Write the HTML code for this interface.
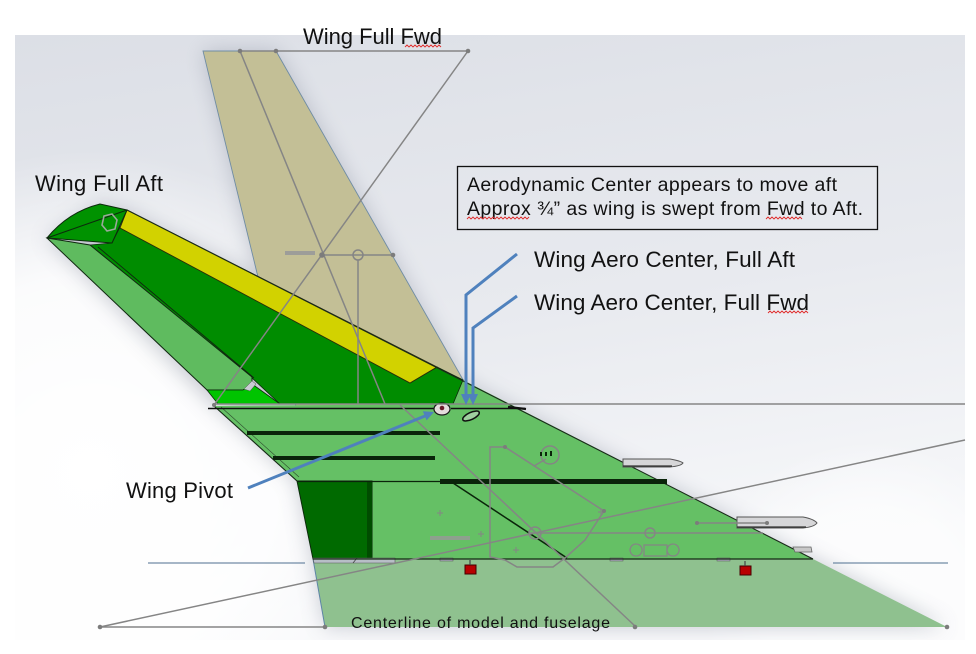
<!DOCTYPE html>
<html><head><meta charset="utf-8"><style>
html,body{margin:0;padding:0;background:#fff;width:976px;height:654px;overflow:hidden;}
svg{display:block;position:absolute;left:0;top:0;}
text{font-family:"Liberation Sans",Arial,sans-serif;fill:#111;}
</style></head><body>
<svg width="976" height="654" viewBox="0 0 976 654" xmlns="http://www.w3.org/2000/svg">
<defs>
<linearGradient id="bg" x1="0" y1="0" x2="0.25" y2="1">
<stop offset="0" stop-color="#dcdfe6"/>
<stop offset="0.55" stop-color="#e8eaef"/>
<stop offset="1" stop-color="#f7f8fa"/>
</linearGradient>
<radialGradient id="glowL" gradientUnits="userSpaceOnUse" cx="90" cy="470" r="320">
<stop offset="0" stop-color="#ffffff" stop-opacity="1"/>
<stop offset="0.6" stop-color="#ffffff" stop-opacity="0.85"/>
<stop offset="1" stop-color="#ffffff" stop-opacity="0"/>
</radialGradient>
<radialGradient id="glowR" gradientUnits="userSpaceOnUse" cx="870" cy="610" r="170">
<stop offset="0" stop-color="#ffffff" stop-opacity="0.7"/>
<stop offset="0.6" stop-color="#ffffff" stop-opacity="0.6"/>
<stop offset="1" stop-color="#ffffff" stop-opacity="0"/>
</radialGradient>
<filter id="blur" x="-20%" y="-20%" width="140%" height="140%"><feGaussianBlur stdDeviation="10"/></filter>
<clipPath id="frame"><rect x="15" y="35" width="950" height="605"/></clipPath>
</defs>

<!-- background -->
<rect x="15" y="35" width="950" height="605" fill="url(#bg)"/>
<rect x="15" y="35" width="950" height="605" fill="url(#glowL)"/>
<rect x="15" y="35" width="950" height="605" fill="url(#glowR)"/>

<!-- shadow -->
<g clip-path="url(#frame)">
<g filter="url(#blur)" opacity="0.45" fill="#8a90a0">
<polygon points="203,51 276,51 470,392 300,420 257,273"/>
<polygon points="47,238 100,204 127,210 813,559 947,627 325,627 313,559 297,481 214,406"/>
</g>
</g>

<!-- tan wing (full fwd) -->
<polygon points="203,51 276,51 470,392 300,420 257,273" fill="#c3bf96" stroke="#6f8ca4" stroke-width="0.9"/>

<!-- translucent lower region -->
<polygon points="313,559 813,559 947,627 325,627" fill="#8fc18f"/>
<line x1="313" y1="559" x2="325" y2="627" stroke="#5e86a6" stroke-width="1"/>

<!-- glove light green -->
<polygon points="214,406 453,404 463,380 813,559 313,559 297,481" fill="#65c065"/>
<!-- dark rect -->
<polygon points="297,481 372,481 372,559 313,559" fill="#006a00" stroke="#0b2a0b" stroke-width="1"/>
<rect x="367" y="481" width="5" height="78" fill="#004c00"/>
<!-- small gray strips at bottom -->
<polygon points="313,558 395,558 395,563 314,563" fill="#b7bec6" stroke="#555" stroke-width="0.6"/>
<line x1="357" y1="558" x2="353" y2="563" stroke="#444" stroke-width="0.8"/>
<rect x="440" y="558" width="13" height="3" fill="#aab" stroke="#555" stroke-width="0.5"/>
<rect x="610" y="558" width="13" height="3" fill="#aab" stroke="#555" stroke-width="0.5"/>
<rect x="717" y="558" width="13" height="3" fill="#aab" stroke="#555" stroke-width="0.5"/>

<!-- upper wing (full aft) -->
<polygon points="112,243 120,227 410,383 437,367 463,380 453,404 280,404 252,378 90,245" fill="#008c00" stroke="#0c2a0c" stroke-width="0.8"/>
<polygon points="127,210 437,367 410,383 120,228" fill="#d2d200" stroke="#2a2a0a" stroke-width="0.9"/>
<path d="M47,238 Q68,212 100,204 L127,210 L112,243 Z" fill="#009200" stroke="#0c2a0c" stroke-width="1"/>
<line x1="47" y1="238" x2="127" y2="210" stroke="#0c2a0c" stroke-width="1"/>
<polygon points="104,216 112,214 117,220 115,229 107,231 102,225" fill="none" stroke="#9aa89a" stroke-width="1.6"/>
<polygon points="47,238 90,245 252,377 252,385 243,390 207,390" fill="#5fbb5f" stroke="#102810" stroke-width="1"/>
<line x1="98" y1="247" x2="254" y2="378" stroke="#102810" stroke-width="0.9"/>
<polygon points="207,390 243,390 252,384 280,404 218,404" fill="#00c400" stroke="#0c2a0c" stroke-width="0.8"/>
<polygon points="244,389 252,381 256,384 250,391" fill="#c8ccd2" stroke="#555" stroke-width="0.5"/>

<!-- edges -->
<line x1="127" y1="210" x2="813" y2="559" stroke="#1a2a1a" stroke-width="1.1"/>
<line x1="214" y1="406" x2="297" y2="481" stroke="#142814" stroke-width="1.1"/>
<line x1="221" y1="407" x2="299" y2="477" stroke="#2d4a2d" stroke-width="0.6"/>
<line x1="313" y1="559" x2="813" y2="559" stroke="#142814" stroke-width="1.3"/>
<line x1="208" y1="408.5" x2="434" y2="408.5" stroke="#101010" stroke-width="1.5"/>
<line x1="451" y1="408.5" x2="525" y2="408.5" stroke="#101010" stroke-width="1.5"/>
<line x1="508" y1="407" x2="526" y2="409" stroke="#101010" stroke-width="2.2"/>
<!-- slots -->
<line x1="247" y1="433" x2="440" y2="433" stroke="#0a240a" stroke-width="4"/>
<line x1="273" y1="458" x2="435" y2="458" stroke="#0a240a" stroke-width="4"/>
<line x1="297" y1="481.5" x2="440" y2="481.5" stroke="#0a240a" stroke-width="1.2"/>
<line x1="440" y1="481.5" x2="667" y2="481.5" stroke="#0a240a" stroke-width="5"/>
<line x1="453" y1="483" x2="567" y2="558" stroke="#0a240a" stroke-width="1.5"/>

<!-- pivot and slot -->
<ellipse cx="442" cy="409" rx="8" ry="6" fill="#e4dcdc" stroke="#1a1a1a" stroke-width="1.2"/>
<circle cx="442" cy="408" r="2.3" fill="#6a1a2a"/>
<ellipse cx="471" cy="416" rx="9" ry="3.5" transform="rotate(-25 471 416)" fill="#9fd09f" stroke="#111" stroke-width="1.5"/>

<!-- tanks -->
<path d="M623,459 L670,459 Q681,461 683,463 Q681,466 670,467 L623,467 Z" fill="#d6d6d8" stroke="#555" stroke-width="1"/>
<line x1="623" y1="466" x2="672" y2="466" stroke="#333" stroke-width="1.2"/>
<path d="M737,517 L803,517 Q814,519 817,523 Q814,527 803,528 L737,528 Z" fill="#d6d6d8" stroke="#555" stroke-width="1"/>
<line x1="737" y1="527" x2="806" y2="527" stroke="#333" stroke-width="1.2"/>
<path d="M793,547 L811,547 L812,552 L795,552 Z" fill="#c8c8c8" stroke="#666" stroke-width="0.8"/>
<!-- red blocks -->
<rect x="465" y="565" width="11" height="9" fill="#b80000" stroke="#400" stroke-width="1"/>
<line x1="470" y1="560" x2="470" y2="565" stroke="#444" stroke-width="1.2"/>
<rect x="740" y="566" width="11" height="9" fill="#b80000" stroke="#400" stroke-width="1"/>
<line x1="745" y1="561" x2="745" y2="566" stroke="#444" stroke-width="1.2"/>

<!-- gray construction lines -->
<g stroke="#858585" stroke-width="1.5" fill="none">
<path d="M240,51 H468"/>
<path d="M468,51 L214,405"/>
<path d="M240,51 L385,404"/>
<path d="M322,255 H393"/>
<circle cx="358" cy="255" r="5"/>
<path d="M358,260 V404"/>
<path d="M400,405 L635,626"/>
<path d="M213,404 H965"/>
<path d="M100,627 H325"/>
<path d="M100,627 L965,440"/>
<path d="M505,447 L490,447 L490,557 L505,560 L517,567 L553,567 L565,558 L585,540 L604,511 Z"/>
<circle cx="535" cy="533" r="6"/>
<circle cx="650" cy="533" r="5"/>
<path d="M529,533 H763"/>
<path d="M697,523 H767"/>
<circle cx="550" cy="455" r="9"/>
<path d="M534,466 L546,459"/>
<path d="M636,544 a6,6 0 1 0 0.1,0 M673,544 a6,6 0 1 0 0.1,0 M644,545 H667 V556 H644 Z" stroke-width="1.3"/>
<path d="M478,534 h6 M481,531 v6 M513,550 h6 M516,547 v6 M598,512 h6 M601,509 v6 M437,513 h6 M440,510 v6" stroke-width="1"/>
</g>
<g fill="#7c7c7c">
<circle cx="240" cy="51" r="2.3"/><circle cx="276" cy="51" r="2.3"/><circle cx="468" cy="51" r="2.3"/>
<circle cx="322" cy="255" r="2.8"/><circle cx="393" cy="255" r="2.3"/>
<circle cx="100" cy="627" r="2.3"/><circle cx="325" cy="627" r="2.3"/><circle cx="635" cy="627" r="2.3"/><circle cx="947" cy="627" r="2.3"/>
<circle cx="214" cy="405" r="2"/><circle cx="697" cy="523" r="2"/><circle cx="767" cy="523" r="2"/>
<circle cx="505" cy="447" r="2"/><circle cx="604" cy="511" r="2"/>
</g>
<rect x="285" y="251" width="30" height="4" fill="#999" opacity="0.9"/>
<rect x="430" y="536" width="40" height="4" fill="#999" opacity="0.8"/>
<rect x="540" y="452" width="2" height="4" fill="#0a240a"/><rect x="545" y="452" width="2" height="4" fill="#0a240a"/><rect x="550" y="451" width="2" height="5" fill="#0a240a"/>

<!-- blue thin lines -->
<line x1="148" y1="563" x2="305" y2="563" stroke="#4e6f90" stroke-width="1"/>
<line x1="833" y1="563" x2="948" y2="563" stroke="#4e6f90" stroke-width="1"/>

<!-- blue arrows -->
<g stroke="#4f81bd" stroke-width="3" fill="none" stroke-linejoin="miter">
<path d="M248,488 L425,416"/>
<path d="M517,254 L466,295 V396"/>
<path d="M517,296 L473,328 V396"/>
</g>
<g fill="#4f81bd">
<polygon points="434,412 426.6,420.4 422.8,411.2"/>
<polygon points="461,394 471,394 466,405"/>
<polygon points="468,394 478,394 473,405"/>
</g>

<!-- text box -->
<rect x="457.5" y="166.5" width="420" height="63" fill="none" stroke="#111" stroke-width="1.3"/>
<text x="467" y="191" font-size="19.5" textLength="370">Aerodynamic Center appears to move aft</text>
<text x="467" y="215" font-size="19.5" textLength="396">Approx ¾” as wing is swept from Fwd to Aft.</text>

<!-- labels -->
<text x="303" y="44" font-size="22" textLength="139">Wing Full Fwd</text>
<text x="35" y="191" font-size="22" textLength="128">Wing Full Aft</text>
<text x="126" y="498" font-size="22" textLength="107">Wing Pivot</text>
<text x="534" y="267" font-size="22.5" textLength="261">Wing Aero Center, Full Aft</text>
<text x="534" y="310" font-size="22.5" textLength="275">Wing Aero Center, Full Fwd</text>
<text x="351" y="628" font-size="16" textLength="259">Centerline of model and fuselage</text>

<!-- spell-check squiggles -->
<g stroke="#e02828" stroke-width="0.9" fill="none">
<path d="M405,47 l2,-2 l2,2 l2,-2 l2,2 l2,-2 l2,2 l2,-2 l2,2 l2,-2 l2,2 l2,-2 l2,2 l2,-2 l2,2 l2,-2 l2,2 l2,-2 l2,2"/>
<path d="M467,219 l2,-2 l2,2 l2,-2 l2,2 l2,-2 l2,2 l2,-2 l2,2 l2,-2 l2,2 l2,-2 l2,2 l2,-2 l2,2 l2,-2 l2,2 l2,-2 l2,2 l2,-2 l2,2 l2,-2 l2,2 l2,-2 l2,2 l2,-2 l2,2 l2,-2 l2,2 l2,-2 l2,2 l2,-2"/>
<path d="M766,219 l2,-2 l2,2 l2,-2 l2,2 l2,-2 l2,2 l2,-2 l2,2 l2,-2 l2,2 l2,-2 l2,2 l2,-2 l2,2 l2,-2 l2,2 l2,-2 l2,2"/>
<path d="M768,313 l2,-2 l2,2 l2,-2 l2,2 l2,-2 l2,2 l2,-2 l2,2 l2,-2 l2,2 l2,-2 l2,2 l2,-2 l2,2 l2,-2 l2,2 l2,-2 l2,2 l2,-2 l2,2"/>
</g>
</svg>
</body></html>
